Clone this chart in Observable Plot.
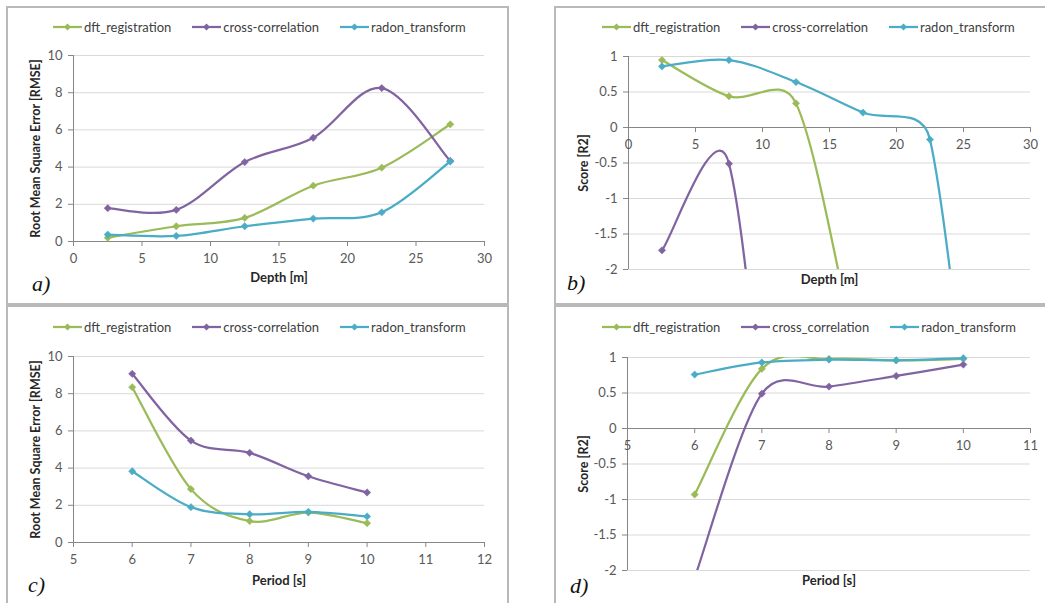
<!DOCTYPE html>
<html><head><meta charset="utf-8">
<script src="https://cdn.jsdelivr.net/npm/d3@7"></script>
<script src="https://cdn.jsdelivr.net/npm/@observablehq/plot@0.6"></script>
<style>
body{margin:0;background:#fff;}
#fig{position:relative;width:1045px;height:603px;overflow:hidden;font-family:Lato,sans-serif;background:#fff;}
.frame{position:absolute;border:2px solid #b9b9b9;box-sizing:border-box;}
.legend{position:absolute;display:flex;align-items:center;font-size:13px;color:#404040;white-space:nowrap;height:16px;}
.legend .item{display:flex;align-items:center;margin-right:21px;}
.legend svg{margin-right:2px;}
.tag{position:absolute;font-family:"Liberation Serif",serif;font-style:italic;font-size:22px;line-height:22px;color:#111;}
.plot{position:absolute;}
</style></head>
<body><div id="fig"></div>
<script>
// ---------- data ----------
const depth = [2.5, 7.5, 12.5, 17.5, 22.5, 27.5];
const period = [6, 7, 8, 9, 10];
const namesDepth = ["dft_registration", "cross-correlation", "radon_transform"];
const namesPeriodRmse = ["dft_registration", "cross-correlation", "radon_transform"];
const namesPeriodR2 = ["dft_registration", "cross_correlation", "radon_transform"];
const palette = ["#9bbb59", "#8064a2", "#4bacc6"];

// a) RMSE vs depth
const rmseDepthDft = [0.2, 0.82, 1.27, 3.0, 3.97, 6.3];
const rmseDepthCross = [1.79, 1.7, 4.27, 5.58, 8.25, 4.33];
const rmseDepthRadon = [0.37, 0.3, 0.82, 1.23, 1.57, 4.3];
// b) R2 vs depth (values below -2 lie outside the visible range)
const r2DepthDft = [0.95, 0.44, 0.34, -3.55, -6.6, -18.8];
const r2DepthCross = [-1.73, -0.51, -9, -15, -32, -8.5];
const r2DepthRadon = [0.86, 0.95, 0.64, 0.21, -0.17, -8.2];
// c) RMSE vs period
const rmsePeriodDft = [8.35, 2.87, 1.15, 1.61, 1.04];
const rmsePeriodCross = [9.07, 5.48, 4.82, 3.56, 2.69];
const rmsePeriodRadon = [3.83, 1.90, 1.52, 1.65, 1.40];
// d) R2 vs period
const r2PeriodDft = [-0.93, 0.84, 0.98, 0.96, 0.98];
const r2PeriodCross = [-2.1, 0.49, 0.59, 0.74, 0.90];
const r2PeriodRadon = [0.76, 0.93, 0.97, 0.96, 0.99];

// ticks & titles
const depthTicks = [0, 5, 10, 15, 20, 25, 30];
const periodTicksC = [5, 6, 7, 8, 9, 10, 11, 12];
const periodTicksD = [5, 6, 7, 8, 9, 10, 11];
const rmseTicks = [0, 2, 4, 6, 8, 10];
const r2Ticks = [-2, -1.5, -1, -0.5, 0, 0.5, 1];
const xTitleDepth = "Depth [m]";
const xTitlePeriod = "Period [s]";
const yTitleRmse = "Root Mean Square Error [RMSE]";
const yTitleR2 = "Score [R2]";
const panelTags = ["a)", "b)", "c)", "d)"];

// ---------- Excel-like smoothed line (Bezier through points) ----------
function excelSmooth(context) {
  let pts = [];
  return {
    areaStart() {}, areaEnd() {},
    lineStart() { pts = []; },
    point(x, y) { pts.push([+x, +y]); },
    lineEnd() {
      const n = pts.length;
      if (!n) return;
      context.moveTo(pts[0][0], pts[0][1]);
      for (let i = 0; i < n - 1; i++) {
        const p0 = pts[i === 0 ? 0 : i - 1], p1 = pts[i], p2 = pts[i + 1], p3 = pts[Math.min(i + 2, n - 1)];
        const d12 = Math.hypot(p2[0] - p1[0], p2[1] - p1[1]);
        const d02 = Math.hypot(p2[0] - p0[0], p2[1] - p0[1]);
        const d13 = Math.hypot(p3[0] - p1[0], p3[1] - p1[1]);
        let f1 = 1 / 6, f2 = 1 / 6;
        if (d02 > 0 && d02 / 6 > d12 / 2) f1 = d12 / (2 * d02);
        if (d13 > 0 && d13 / 6 > d12 / 2) f2 = d12 / (2 * d13);
        context.bezierCurveTo(
          p1[0] + f1 * (p2[0] - p0[0]), p1[1] + f1 * (p2[1] - p0[1]),
          p2[0] - f2 * (p3[0] - p1[0]), p2[1] - f2 * (p3[1] - p1[1]),
          p2[0], p2[1]);
      }
    }
  };
}

const fig = document.getElementById("fig");
const axisColor = "#868686";
const tickText = "#595959";

function addFrame(l, t, w, h) {
  const d = document.createElement("div");
  d.className = "frame";
  Object.assign(d.style, {left: l + "px", top: t + "px", width: w + "px", height: h + "px"});
  fig.appendChild(d);
}

function addLegend(names, l, t) {
  const lg = document.createElement("div");
  lg.className = "legend";
  lg.style.left = l + "px"; lg.style.top = t + "px";
  names.forEach((name, k) => {
    const it = document.createElement("div");
    it.className = "item";
    it.innerHTML = `<svg width="29" height="10"><line x1="0" y1="5" x2="29" y2="5" stroke="${palette[k]}" stroke-width="2.25"/><path d="M14.5,1.5L18,5L14.5,8.5L11,5Z" fill="${palette[k]}"/></svg><span>${name}</span>`;
    lg.appendChild(it);
  });
  fig.appendChild(lg);
}

function addTag(text, l, t) {
  const d = document.createElement("div");
  d.className = "tag";
  d.textContent = text;
  d.style.left = l + "px"; d.style.top = t + "px";
  fig.appendChild(d);
}

function panel(cfg) {
  const {xs, values, names, xDomain, xTicks, yDomain, yTicks, xTitle, yTitle, atZero, box} = cfg;
  const marks = [];
  marks.push(Plot.gridY(yTicks, {stroke: "#d9d9d9", strokeOpacity: 1}));
  marks.push(Plot.ruleX([xDomain[0]], {stroke: axisColor}));
  if (atZero) {
    marks.push(Plot.ruleY([0], {stroke: axisColor}));
    marks.push(Plot.ruleX(xTicks, {x: d => d, y1: 0, y2: 0, insetBottom: -5, stroke: axisColor}));
    marks.push(Plot.text(xTicks, {x: d => d, y: 0, text: d => String(d), dy: 17, fill: tickText, fontSize: 13}));
  } else {
    marks.push(Plot.ruleY([yDomain[0]], {stroke: axisColor}));
    marks.push(Plot.axisX(xTicks, {tickSize: 5, tickPadding: 7, tickFormat: d => String(d), label: null, fontSize: 13, stroke: axisColor, fill: tickText}));
  }
  marks.push(Plot.axisY(yTicks, {tickSize: 5, tickPadding: 6, tickFormat: d => String(d), label: null, fontSize: 13, stroke: axisColor, fill: tickText}));
  marks.push(Plot.text([xTitle], {text: d => d, frameAnchor: "bottom", dy: box.xTitleDy, fontWeight: "bold", fontSize: 13, fill: "#262626"}));
  marks.push(Plot.text([yTitle], {text: d => d, frameAnchor: "left", textAnchor: "middle", lineAnchor: "middle", rotate: -90, dx: -box.yTitleDx, fontWeight: "bold", fontSize: 12.5, fill: "#262626"}));
  names.forEach((name, k) => {
    const rows = xs.map((x, i) => ({series: name, x, y: values[k][i]}));
    marks.push(Plot.line(rows, {x: "x", y: "y", stroke: palette[k], strokeWidth: 2.25, curve: excelSmooth, clip: true}));
    marks.push(Plot.dot(rows, {x: "x", y: "y", filter: d => d.y >= yDomain[0] && d.y <= yDomain[1], symbol: "diamond2", r: 3.3, fill: palette[k], stroke: palette[k], strokeWidth: 0.5}));
  });
  const svg = Plot.plot({
    width: box.w, height: box.h,
    marginLeft: box.ml, marginRight: box.mr, marginTop: box.mt, marginBottom: box.mb,
    x: {domain: xDomain, axis: null},
    y: {domain: yDomain, axis: null},
    style: {fontFamily: "Lato, sans-serif", fontSize: "13px", background: "transparent", color: tickText, overflow: "visible"},
    marks
  });
  svg.classList.add("plot");
  svg.style.left = box.l + "px";
  svg.style.top = box.t + "px";
  fig.appendChild(svg);
}

// frames
addFrame(6, 6, 503, 299);
addFrame(554, 6, 500, 299);
addFrame(6, 305, 503, 305);
addFrame(554, 305, 500, 305);

panel({xs: depth, values: [rmseDepthDft, rmseDepthCross, rmseDepthRadon], names: namesDepth,
  xDomain: [0, 30], xTicks: depthTicks, yDomain: [0, 10], yTicks: rmseTicks,
  xTitle: xTitleDepth, yTitle: yTitleRmse, atZero: false,
  box: {l: 8, t: 38, w: 497, h: 262, ml: 65, mr: 21, mt: 17, mb: 59, xTitleDy: 40, yTitleDx: 38}});
panel({xs: depth, values: [r2DepthDft, r2DepthCross, r2DepthRadon], names: namesDepth,
  xDomain: [0, 30], xTicks: depthTicks, yDomain: [-2, 1], yTicks: r2Ticks,
  xTitle: xTitleDepth, yTitle: yTitleR2, atZero: true,
  box: {l: 556, t: 38, w: 489, h: 262, ml: 72, mr: 15, mt: 18, mb: 31, xTitleDy: 14, yTitleDx: 45}});
panel({xs: period, values: [rmsePeriodDft, rmsePeriodCross, rmsePeriodRadon], names: namesPeriodRmse,
  xDomain: [5, 12], xTicks: periodTicksC, yDomain: [0, 10], yTicks: rmseTicks,
  xTitle: xTitlePeriod, yTitle: yTitleRmse, atZero: false,
  box: {l: 8, t: 338, w: 497, h: 262, ml: 65, mr: 21, mt: 18, mb: 58, xTitleDy: 42, yTitleDx: 38}});
panel({xs: period, values: [r2PeriodDft, r2PeriodCross, r2PeriodRadon], names: namesPeriodR2,
  xDomain: [5, 11], xTicks: periodTicksD, yDomain: [-2, 1], yTicks: r2Ticks,
  xTitle: xTitlePeriod, yTitle: yTitleR2, atZero: true,
  box: {l: 556, t: 338, w: 489, h: 262, ml: 71, mr: 15, mt: 19, mb: 30, xTitleDy: 14, yTitleDx: 44}});

addLegend(namesDepth, 53, 19);
addLegend(namesDepth, 602, 19);
addLegend(namesPeriodRmse, 53, 319);
addLegend(namesPeriodR2, 602, 319);

addTag(panelTags[0], 32, 273);
addTag(panelTags[1], 567, 272);
addTag(panelTags[2], 28, 574);
addTag(panelTags[3], 570, 575);
</script>
</body></html>
